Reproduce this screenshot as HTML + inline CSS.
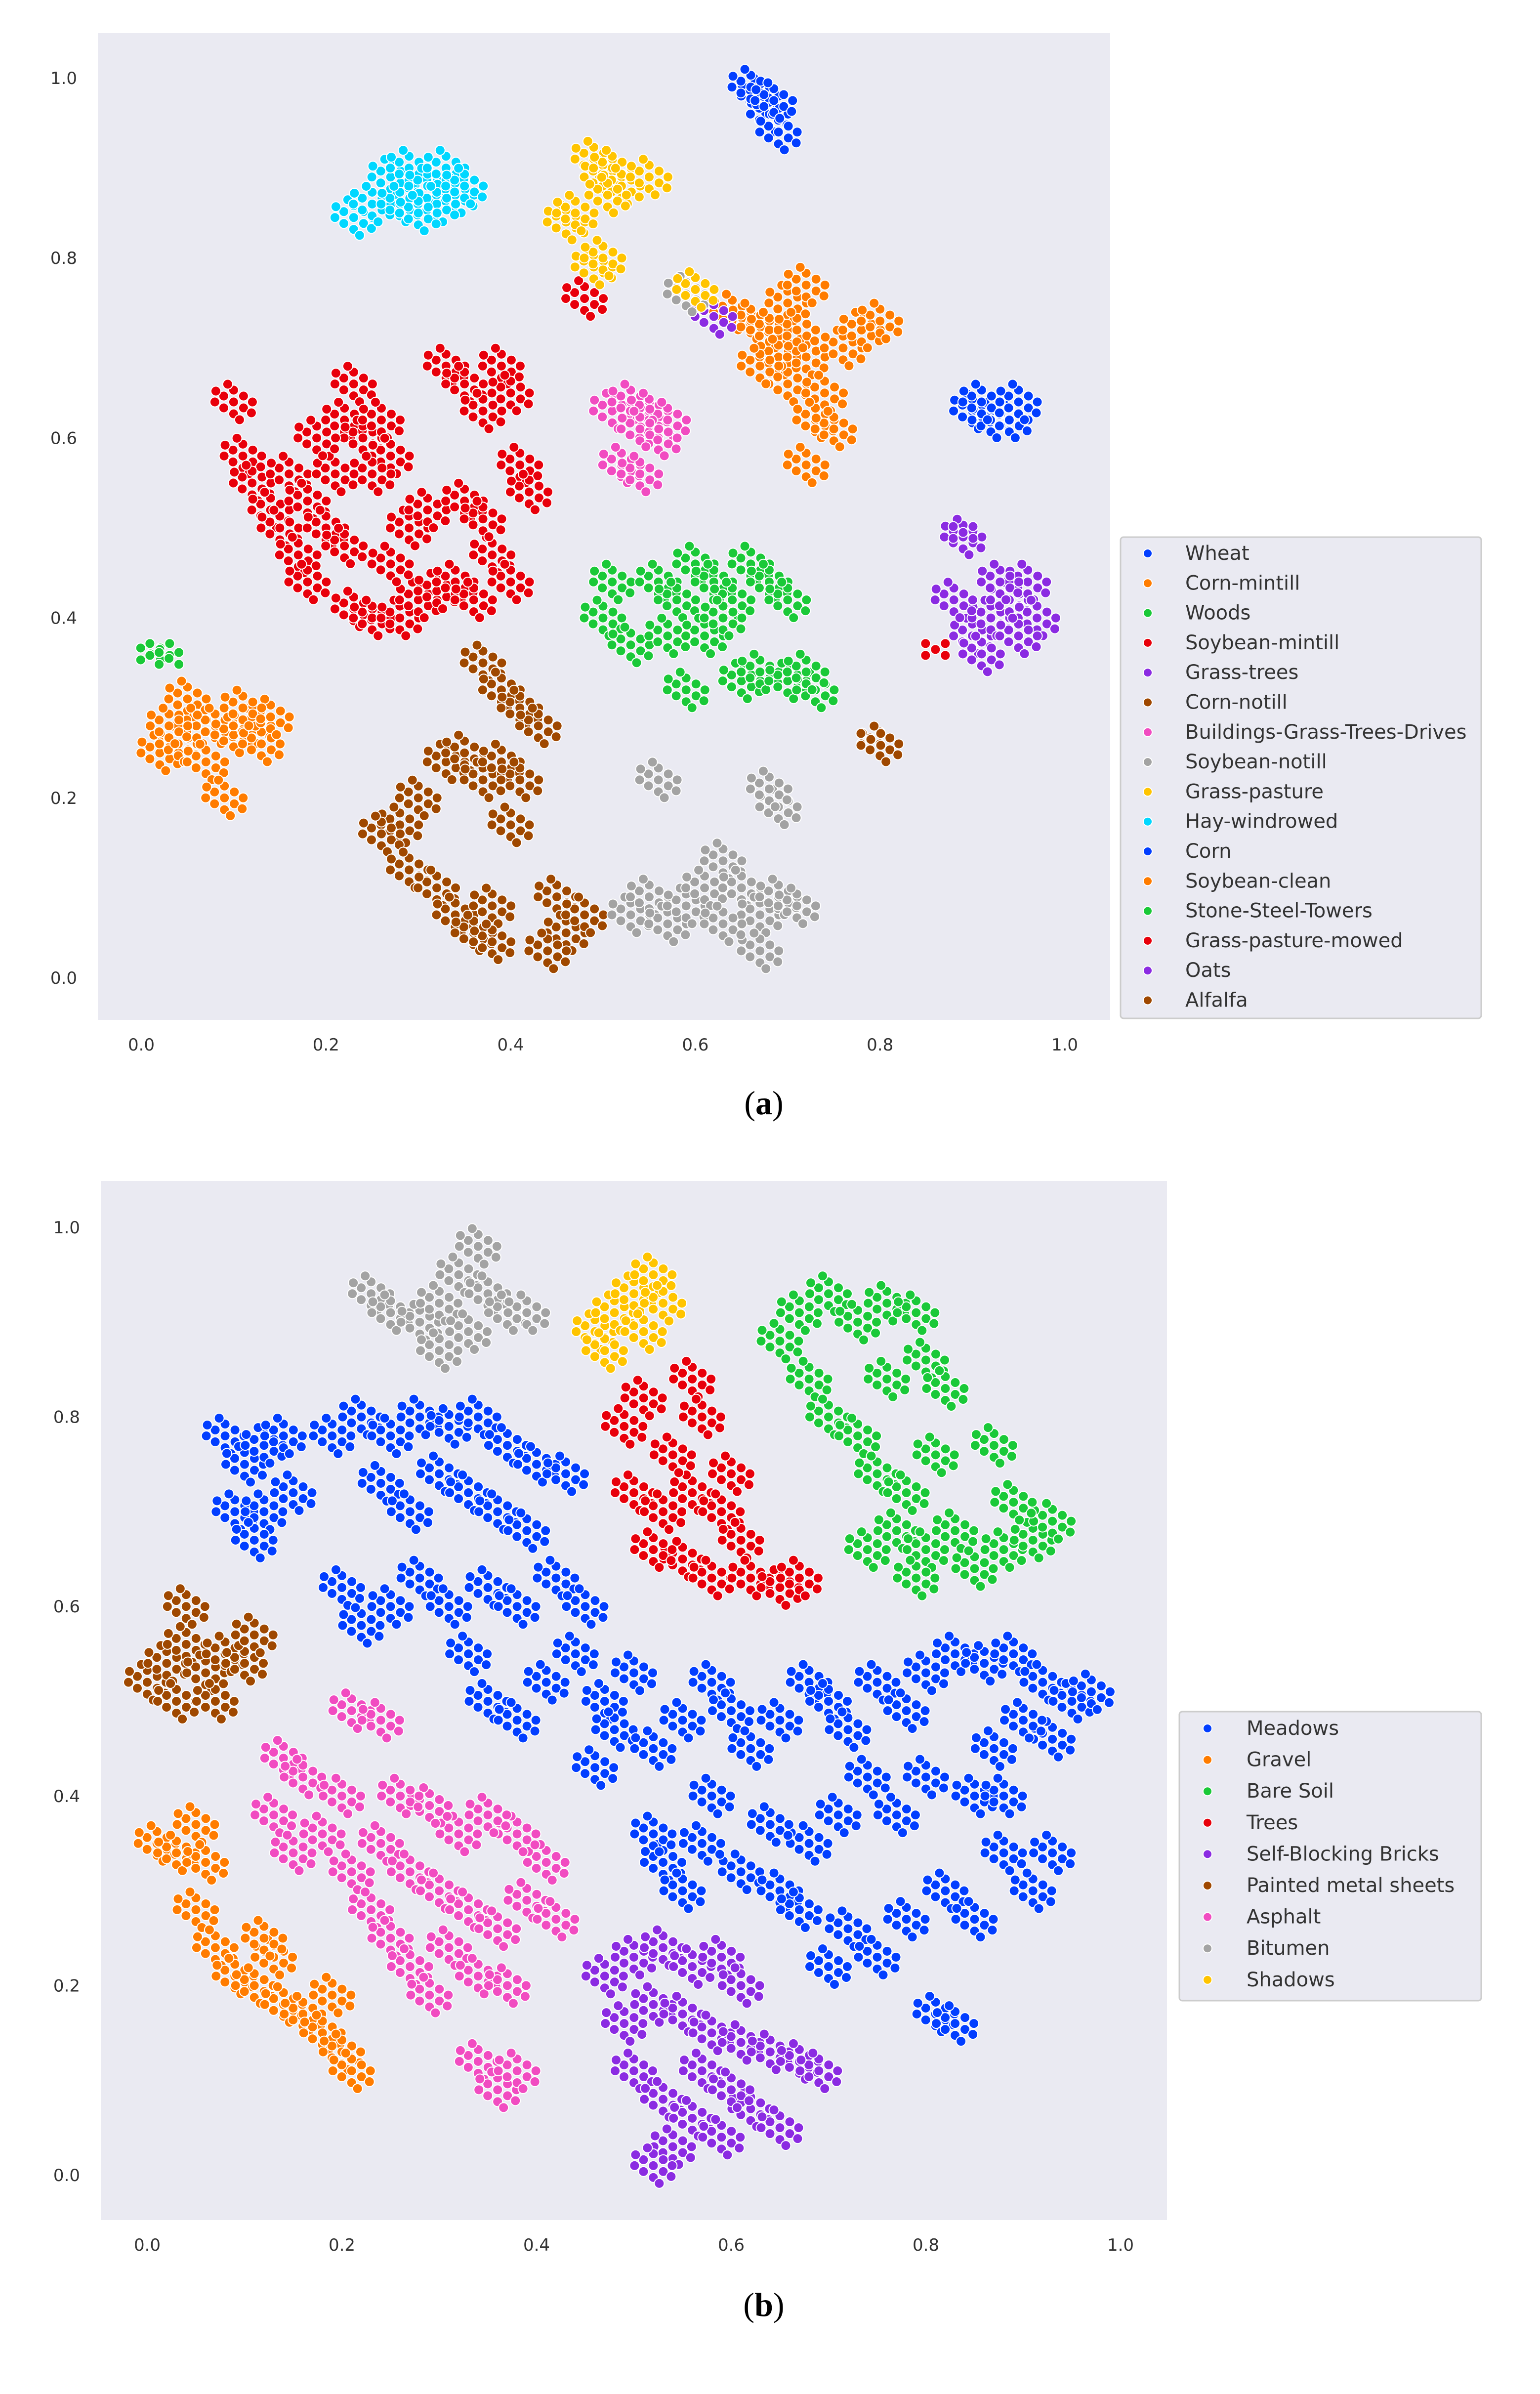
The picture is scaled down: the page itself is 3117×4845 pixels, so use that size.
<!DOCTYPE html>
<html><head><meta charset="utf-8"><style>
html,body{margin:0;padding:0;background:#fff;}
svg{display:block;}
</style></head><body>
<svg id="fig" width="3117" height="4845" viewBox="0 0 3117 4845" xmlns="http://www.w3.org/2000/svg">
<rect x="0" y="0" width="3117" height="4845" fill="#ffffff"/>
<rect x="198" y="67" width="2049" height="1997" fill="#eaeaf2"/>
<rect x="204" y="2390" width="2158" height="2103" fill="#eaeaf2"/>
<g id="pa"></g>
<g id="pb"></g>
<g id="axa"></g>
<g id="axb"></g>
<rect x="2268" y="1087" width="730" height="974" rx="6" fill="#eaeaf2" stroke="#cccccc" stroke-width="3"/>
<rect x="2387" y="3464" width="611" height="585" rx="6" fill="#eaeaf2" stroke="#cccccc" stroke-width="3"/>
<g id="lga"></g>
<g id="lgb"></g>
<text x="1546" y="2255" text-anchor="middle" font-family="Liberation Serif, serif" font-size="68">(<tspan font-weight="bold">a</tspan>)</text>
<text x="1546" y="4687" text-anchor="middle" font-family="Liberation Serif, serif" font-size="68">(<tspan font-weight="bold">b</tspan>)</text>
</svg>
<script>
const ticks = [0.0,0.2,0.4,0.6,0.8,1.0];
const tickLabels = ["0.0","0.2","0.4","0.6","0.8","1.0"];
const classesA = ["Wheat","Corn-mintill","Woods","Soybean-mintill","Grass-trees","Corn-notill","Buildings-Grass-Trees-Drives","Soybean-notill","Grass-pasture","Hay-windrowed","Corn","Soybean-clean","Stone-Steel-Towers","Grass-pasture-mowed","Oats","Alfalfa"];
const classesB = ["Meadows","Gravel","Bare Soil","Trees","Self-Blocking Bricks","Painted metal sheets","Asphalt","Bitumen","Shadows"];
const palette = ["#023eff","#ff7c00","#1ac938","#e8000b","#8b2be2","#9f4800","#f14cc1","#a3a3a3","#ffc400","#00d7ff"];

// Plot (a) points per class
const wheat = [[0.67,0.98],[0.68,0.96],[0.69,0.94],[0.66,0.99],[0.685,0.975]];
const cornMintill = [[0.64,0.74],[0.66,0.73],[0.68,0.72],[0.70,0.75],[0.72,0.77],[0.69,0.69],[0.70,0.66],[0.72,0.69],[0.74,0.65],[0.73,0.62],[0.75,0.61],[0.72,0.57],[0.76,0.70],[0.78,0.72],[0.80,0.73],[0.67,0.68],[0.71,0.72]];
const woods = [[0.50,0.40],[0.51,0.44],[0.53,0.37],[0.56,0.44],[0.58,0.42],[0.60,0.46],[0.62,0.44],[0.64,0.42],[0.66,0.46],[0.68,0.44],[0.70,0.42],[0.57,0.38],[0.61,0.38],[0.65,0.33],[0.67,0.34],[0.70,0.33],[0.73,0.32],[0.72,0.34],[0.63,0.40],[0.59,0.32]];
const soyMintill = [[0.10,0.64],[0.11,0.58],[0.12,0.55],[0.14,0.52],[0.15,0.50],[0.17,0.47],[0.18,0.44],[0.16,0.56],[0.18,0.53],[0.20,0.50],[0.22,0.48],[0.23,0.66],[0.22,0.62],[0.24,0.60],[0.26,0.62],[0.27,0.58],[0.25,0.56],[0.33,0.68],[0.35,0.66],[0.37,0.63],[0.39,0.68],[0.40,0.65],[0.41,0.57],[0.42,0.54],[0.23,0.41],[0.25,0.40],[0.28,0.40],[0.30,0.42],[0.32,0.43],[0.34,0.44],[0.36,0.42],[0.38,0.47],[0.40,0.44],[0.29,0.50],[0.31,0.52],[0.27,0.46],[0.35,0.53],[0.37,0.51],[0.21,0.56],[0.19,0.60],[0.48,0.755]];
const grassTrees = [[0.90,0.38],[0.92,0.40],[0.94,0.42],[0.96,0.44],[0.97,0.40],[0.88,0.42],[0.91,0.36],[0.95,0.38],[0.93,0.44],[0.89,0.49],[0.62,0.735]];
const cornNotill = [[0.37,0.35],[0.39,0.32],[0.41,0.30],[0.43,0.28],[0.33,0.24],[0.35,0.25],[0.37,0.22],[0.39,0.24],[0.41,0.22],[0.40,0.17],[0.30,0.20],[0.28,0.17],[0.26,0.16],[0.29,0.12],[0.32,0.10],[0.34,0.07],[0.36,0.05],[0.38,0.08],[0.38,0.04],[0.45,0.09],[0.46,0.05],[0.44,0.03],[0.48,0.07],[0.80,0.26]];
const buildings = [[0.51,0.63],[0.53,0.64],[0.55,0.63],[0.57,0.62],[0.56,0.60],[0.54,0.61],[0.52,0.57],[0.54,0.56]];
const soyNotill = [[0.53,0.07],[0.55,0.09],[0.57,0.06],[0.59,0.08],[0.61,0.10],[0.63,0.13],[0.65,0.10],[0.67,0.07],[0.69,0.09],[0.71,0.08],[0.67,0.03],[0.63,0.06],[0.56,0.22],[0.69,0.19],[0.68,0.21],[0.59,0.76]];
const grassPasture = [[0.49,0.91],[0.50,0.89],[0.51,0.90],[0.52,0.88],[0.505,0.87],[0.55,0.89],[0.46,0.84],[0.47,0.85],[0.49,0.79],[0.50,0.80],[0.60,0.765]];
const hay = [[0.23,0.845],[0.25,0.86],[0.27,0.89],[0.29,0.90],[0.28,0.86],[0.31,0.88],[0.33,0.90],[0.34,0.87],[0.35,0.88],[0.32,0.86],[0.30,0.85]];
const corn = [[0.90,0.63],[0.92,0.62],[0.94,0.62],[0.91,0.64],[0.95,0.64]];
const soyClean = [[0.02,0.25],[0.04,0.26],[0.05,0.31],[0.06,0.28],[0.08,0.28],[0.10,0.27],[0.12,0.28],[0.13,0.26],[0.14,0.29],[0.07,0.24],[0.09,0.20],[0.11,0.30],[0.03,0.28]];
const stone = [[0.01,0.36],[0.02,0.365],[0.03,0.355]];
const mowed = [[0.86,0.365]];
const oats = [[0.89,0.495]];
const alfalfa = [[0.79,0.265]];
const seriesA = [wheat,cornMintill,woods,soyMintill,grassTrees,cornNotill,buildings,soyNotill,grassPasture,hay,corn,soyClean,stone,mowed,oats,alfalfa];

// Plot (b) points per class
const meadows = [[0.08,0.78],[0.10,0.75],[0.12,0.77],[0.09,0.70],[0.12,0.70],[0.15,0.72],[0.14,0.78],[0.11,0.67],[0.19,0.78],[0.22,0.80],[0.25,0.78],[0.28,0.80],[0.31,0.79],[0.34,0.80],[0.37,0.77],[0.40,0.75],[0.43,0.74],[0.24,0.73],[0.27,0.70],[0.30,0.74],[0.33,0.72],[0.36,0.70],[0.39,0.68],[0.20,0.62],[0.22,0.58],[0.25,0.60],[0.28,0.63],[0.31,0.60],[0.35,0.62],[0.38,0.60],[0.42,0.63],[0.45,0.60],[0.33,0.55],[0.35,0.50],[0.38,0.48],[0.41,0.52],[0.44,0.55],[0.47,0.50],[0.50,0.53],[0.48,0.47],[0.52,0.45],[0.55,0.48],[0.58,0.52],[0.60,0.49],[0.62,0.45],[0.65,0.48],[0.68,0.52],[0.70,0.50],[0.72,0.47],[0.75,0.52],[0.78,0.49],[0.80,0.53],[0.83,0.55],[0.86,0.54],[0.89,0.55],[0.92,0.52],[0.95,0.50],[0.97,0.51],[0.93,0.46],[0.90,0.48],[0.87,0.45],[0.85,0.40],[0.80,0.42],[0.77,0.38],[0.74,0.42],[0.71,0.38],[0.68,0.35],[0.64,0.37],[0.61,0.32],[0.57,0.35],[0.53,0.33],[0.52,0.36],[0.55,0.30],[0.65,0.30],[0.67,0.28],[0.72,0.26],[0.75,0.23],[0.70,0.22],[0.78,0.27],[0.82,0.30],[0.85,0.27],[0.88,0.34],[0.91,0.30],[0.93,0.34],[0.88,0.40],[0.81,0.17],[0.83,0.16],[0.58,0.40],[0.46,0.43]];
const gravel = [[0.01,0.35],[0.03,0.34],[0.05,0.37],[0.06,0.33],[0.05,0.28],[0.07,0.24],[0.09,0.21],[0.11,0.20],[0.13,0.23],[0.14,0.18],[0.16,0.17],[0.18,0.15],[0.20,0.13],[0.21,0.11],[0.19,0.19],[0.12,0.25]];
const bareSoil = [[0.65,0.88],[0.67,0.91],[0.70,0.93],[0.73,0.90],[0.76,0.92],[0.79,0.91],[0.68,0.84],[0.70,0.80],[0.73,0.78],[0.76,0.84],[0.80,0.86],[0.82,0.83],[0.75,0.74],[0.78,0.72],[0.81,0.76],[0.77,0.68],[0.80,0.66],[0.83,0.68],[0.85,0.64],[0.88,0.66],[0.91,0.67],[0.93,0.69],[0.89,0.71],[0.87,0.77],[0.74,0.66],[0.79,0.63]];
const trees = [[0.49,0.79],[0.51,0.82],[0.56,0.84],[0.57,0.80],[0.50,0.72],[0.53,0.70],[0.56,0.72],[0.59,0.70],[0.61,0.67],[0.55,0.65],[0.58,0.63],[0.52,0.66],[0.62,0.63],[0.65,0.62],[0.67,0.63],[0.60,0.74],[0.54,0.76]];
const bricks = [[0.47,0.21],[0.50,0.23],[0.53,0.24],[0.56,0.22],[0.59,0.23],[0.61,0.20],[0.49,0.16],[0.52,0.18],[0.55,0.17],[0.58,0.15],[0.61,0.14],[0.64,0.13],[0.67,0.12],[0.69,0.11],[0.50,0.11],[0.53,0.08],[0.56,0.06],[0.59,0.04],[0.62,0.07],[0.65,0.05],[0.54,0.03],[0.52,0.01],[0.57,0.11],[0.60,0.09]];
const metal = [[0.00,0.52],[0.02,0.54],[0.04,0.56],[0.06,0.53],[0.08,0.55],[0.10,0.54],[0.03,0.50],[0.07,0.50],[0.11,0.57],[0.04,0.60]];
const asphalt = [[0.21,0.49],[0.24,0.48],[0.14,0.44],[0.16,0.42],[0.13,0.38],[0.15,0.34],[0.18,0.36],[0.21,0.32],[0.23,0.28],[0.25,0.25],[0.27,0.22],[0.29,0.19],[0.24,0.35],[0.27,0.32],[0.30,0.30],[0.33,0.28],[0.36,0.26],[0.39,0.29],[0.41,0.33],[0.38,0.36],[0.35,0.38],[0.32,0.36],[0.29,0.39],[0.26,0.40],[0.31,0.24],[0.34,0.21],[0.37,0.20],[0.34,0.12],[0.36,0.09],[0.38,0.11],[0.42,0.27],[0.20,0.40]];
const bitumen = [[0.23,0.93],[0.25,0.91],[0.28,0.90],[0.30,0.92],[0.32,0.95],[0.34,0.98],[0.35,0.93],[0.37,0.91],[0.39,0.91],[0.30,0.87],[0.33,0.89]];
const shadows = [[0.46,0.89],[0.48,0.91],[0.50,0.93],[0.52,0.95],[0.53,0.92],[0.51,0.89],[0.47,0.87]];
const seriesB = [meadows,gravel,bareSoil,trees,bricks,metal,asphalt,bitumen,shadows];

const NS = "http://www.w3.org/2000/svg";
function mk(tag, attrs, parent){const e=document.createElementNS(NS,tag);for(const k in attrs)e.setAttribute(k,attrs[k]);parent.appendChild(e);return e;}
function scale(d0,d1,r0,r1){return v=>r0+(v-d0)/(d1-d0)*(r1-r0);}
const offs=[[0,0],[-20,-12],[20,-12],[-20,12],[20,12],[0,-24],[0,24],[-38,0],[38,0],[-12,-36],[12,36],[-36,-22],[36,22]];

function drawPlot(g, series, classes, xs, ys, small){
  series.forEach((pts,ci)=>{
    const col=palette[ci%10];
    const grp=mk('g',{},g);
    
    
    pts.forEach(p=>{
      const cx=xs(p[0]), cy=ys(p[1]);
      const use = small.includes(ci)||pts.length<4 ? offs.slice(0,5) : offs;
      use.forEach(o=>{
        const c=mk('circle',{cx:cx+o[0],cy:cy+o[1],r:10,fill:col,stroke:'#ffffff','stroke-width':2},grp);
        
        
      });
    });
  });
}
function drawAxes(g, xs, ys, bottom, left){
  ticks.forEach((t,i)=>{
    const tx=mk('text',{x:xs(t),y:bottom+62,'text-anchor':'middle','font-family':'DejaVu Sans, sans-serif','font-size':34,fill:'#333'},g);
    tx.textContent=tickLabels[i];
    
    
    const ty=mk('text',{x:left-42,y:ys(t)+12,'text-anchor':'end','font-family':'DejaVu Sans, sans-serif','font-size':34,fill:'#333'},g);
    ty.textContent=tickLabels[i];
    
    
  });
}
function drawLegend(g, classes, mx, tx, y0, dy){
  classes.forEach((c,i)=>{
    const y=y0+i*dy;
    const m=mk('circle',{cx:mx,cy:y,r:9,fill:palette[i%10],stroke:'#fff','stroke-width':2},g);
    
    
    const t=mk('text',{x:tx,y:y+13,'font-family':'DejaVu Sans, sans-serif','font-size':40,fill:'#333'},g);
    t.textContent=c;
    
    
  });
}
const xa=scale(0,1,286,2155), ya=scale(0,1,1979,158);
const xb=scale(0,1,298,2268), yb=scale(0,1,4402,2484);
drawPlot(document.getElementById('pa'),seriesA,classesA,xa,ya,[12,13,14,15]);
drawPlot(document.getElementById('pb'),seriesB,classesB,xb,yb,[]);
drawAxes(document.getElementById('axa'),xa,ya,2064,198);
drawAxes(document.getElementById('axb'),xb,yb,4493,204);
drawLegend(document.getElementById('lga'),classesA,2323,2399,1120,60.3);
drawLegend(document.getElementById('lgb'),classesB,2444,2523,3498,63.6);
</script>
</body></html>
